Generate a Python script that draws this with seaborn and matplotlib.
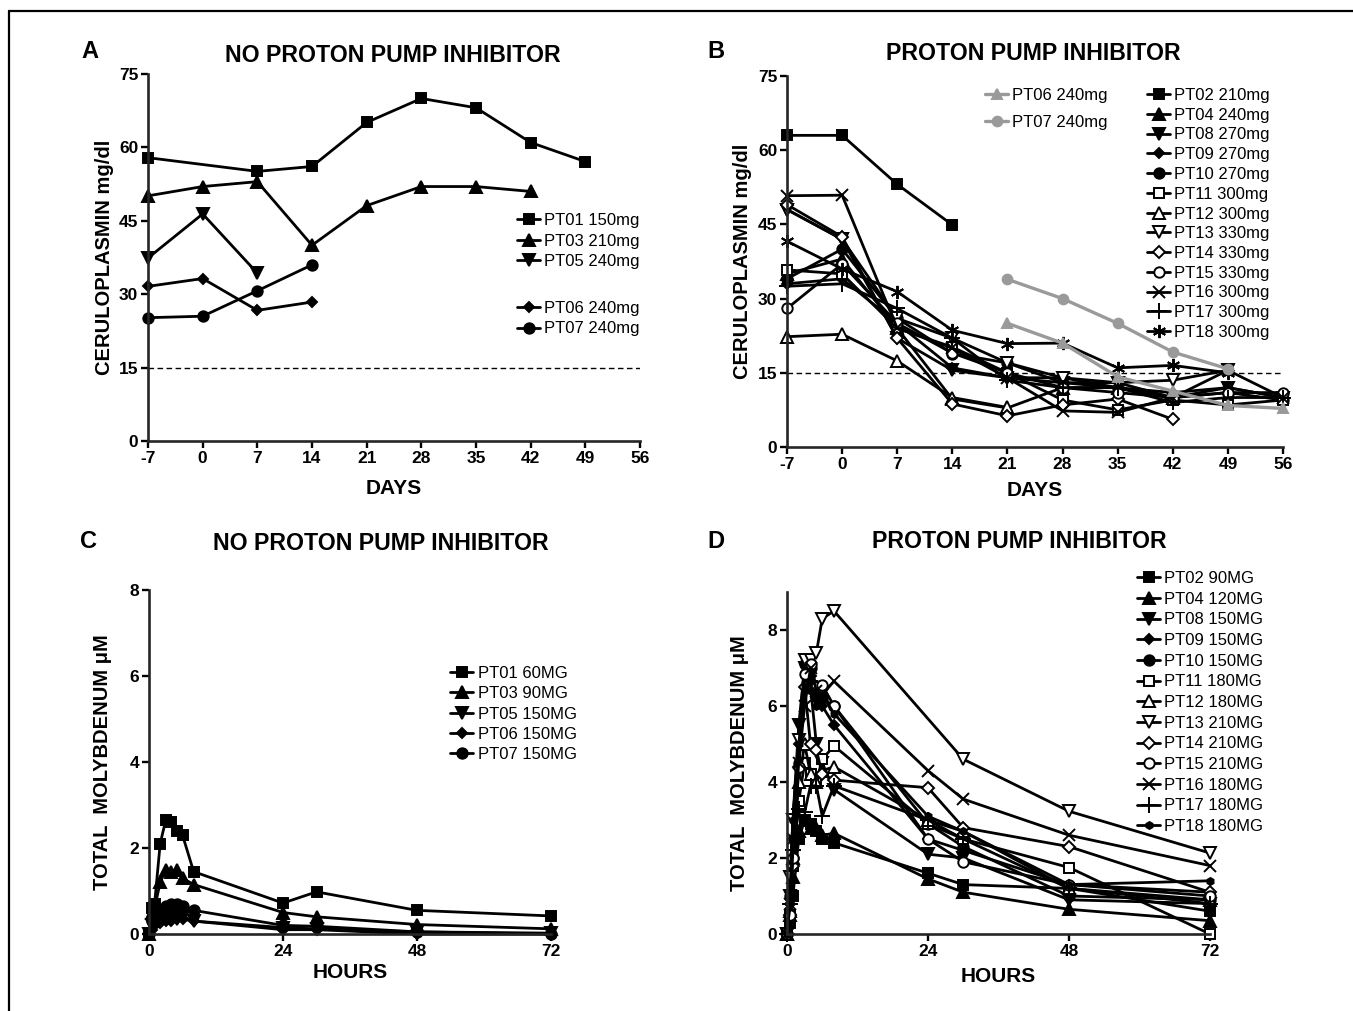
import numpy as np
import pandas as pd
import seaborn as sns
import matplotlib.pyplot as plt
from matplotlib.lines import Line2D

sns.set_theme(style="ticks")
plt.rcParams['font.family'] = ['Liberation Sans', 'DejaVu Sans']
plt.rcParams['axes.linewidth'] = 1.6

# ---------------- data ----------------
days = [-7, 0, 7, 14, 21, 28, 35, 42, 49, 56]
hours = [0, 0.5, 1, 2, 3, 4, 5, 6, 8, 24, 30, 48, 72]
N = None

# Panel A: ceruloplasmin, no proton pump inhibitor
a_pt01 = [57.9, N, 55.1, 56.1, 65.1, 70.0, 68.1, 61.0, 57.1, N]
a_pt03 = [50.1, 52.0, 53.0, 40.0, 48.1, 52.0, 52.0, 51.0, N, N]
a_pt05 = [37.4, 46.4, 34.3, N, N, N, N, N, N, N]
a_pt06 = [31.6, 33.2, 26.7, 28.4, N, N, N, N, N, N]
a_pt07 = [25.2, 25.5, 30.7, 36.0, N, N, N, N, N, N]
a_labels = ["PT01 150mg", "PT03 210mg", "PT05 240mg", "PT06 240mg", "PT07 240mg"]

# Panel B: ceruloplasmin, proton pump inhibitor
b_pt02 = [63.0, 63.0, 53.1, 44.9, N, N, N, N, N, N]
b_pt04 = [35.0, 38.0, 24.0, 9.7, 7.9, 12.0, 12.0, 10.0, N, N]
b_pt08 = [48.0, 42.0, 22.0, 15.5, 14.0, 13.0, 13.0, 10.0, 12.0, 10.0]
b_pt09 = [33.0, 34.0, 25.0, 16.0, 14.0, 14.0, 12.0, 11.0, 12.0, 10.0]
b_pt10 = [34.0, 40.0, 26.0, 18.9, 17.0, 13.0, 12.0, 10.0, 11.0, 9.5]
b_pt11 = [35.8, 35.0, 24.0, 20.2, 15.0, 9.5, 7.5, 9.5, 8.5, 9.5]
b_pt12 = [22.3, 22.8, 17.4, 10.0, 8.0, N, N, N, N, N]
b_pt13 = [48.0, 42.0, 26.0, 22.0, 17.0, 14.0, 13.0, 13.5, 15.5, N]
b_pt14 = [49.0, 42.5, 22.0, 8.7, 6.3, 8.5, 9.7, 5.6, N, N]
b_pt15 = [28.0, 37.0, 25.0, 19.0, 15.0, 12.0, 11.0, 10.0, 11.0, 11.0]
b_pt16 = [50.8, 50.9, 24.0, 20.0, 14.0, 7.3, 7.0, 10.0, 15.5, 10.0]
b_pt17 = [32.5, 33.0, 28.0, 22.0, 13.5, 12.0, 12.0, 9.0, 10.0, 10.0]
b_pt18 = [41.6, 36.0, 31.4, 23.6, 20.9, 21.0, 16.0, 16.5, 15.0, N]
b_pt06 = [N, N, N, N, 25.0, 21.0, 14.2, 11.3, 8.4, 7.8]
b_pt07 = [N, N, N, N, 33.9, 30.0, 25.0, 19.2, 15.8, N]
b_labels = ["PT02 210mg", "PT04 240mg", "PT08 270mg", "PT09 270mg", "PT10 270mg",
            "PT11 300mg", "PT12 300mg", "PT13 330mg", "PT14 330mg", "PT15 330mg",
            "PT16 300mg", "PT17 300mg", "PT18 300mg"]
b_grey_labels = ["PT06 240mg", "PT07 240mg"]

# Panel C: total molybdenum, no proton pump inhibitor
c_pt01 = [0.0, 0.6, 0.7, 2.1, 2.65, 2.6, 2.4, 2.3, 1.45, 0.72, 0.98, 0.55, 0.42]
c_pt03 = [0.0, 0.5, 0.6, 1.2, 1.5, 1.45, 1.5, 1.3, 1.15, 0.5, 0.4, 0.22, 0.12]
c_pt05 = [0.0, 0.2, 0.3, 0.35, 0.4, 0.4, 0.35, 0.4, 0.3, 0.15, 0.12, 0.05, 0.02]
c_pt06 = [0.0, 0.1, 0.2, 0.25, 0.3, 0.3, 0.35, 0.35, 0.3, 0.1, 0.1, 0.0, 0.0]
c_pt07 = [0.0, 0.3, 0.5, 0.55, 0.65, 0.7, 0.7, 0.65, 0.55, 0.2, 0.18, 0.05, 0.0]
c_labels = ["PT01 60MG", "PT03 90MG", "PT05 150MG", "PT06 150MG", "PT07 150MG"]

# Panel D: total molybdenum, proton pump inhibitor
d_pt02 = [0.0, 0.3, 1.0, 2.5, 3.0, 2.9, 2.7, 2.5, 2.4, 1.6, 1.3, 1.2, 0.6]
d_pt04 = [0.0, 0.5, 1.5, 2.7, 3.0, 2.8, 2.8, 2.6, 2.65, 1.45, 1.1, 0.65, 0.35]
d_pt08 = [0.0, 1.0, 3.0, 5.5, 7.0, 6.5, 5.0, 4.5, 3.8, 2.1, 2.0, 0.9, 0.8]
d_pt09 = [0.0, 0.8, 2.5, 5.0, 7.1, 6.8, 6.2, 6.0, 5.5, 2.5, 2.2, 1.3, 1.1]
d_pt10 = [0.0, 1.0, 2.0, 4.5, 7.1, 7.0, 6.3, 6.2, 6.0, 2.9, 2.3, 1.0, 0.9]
d_pt11 = [0.0, 0.5, 1.8, 3.5, 4.5, 4.2, 4.0, 4.6, 4.95, 2.9, 2.5, 1.75, 0.0]
d_pt12 = [0.0, 0.6, 2.0, 4.0, 5.0, 4.2, 4.0, 4.3, 4.4, 3.0, 2.7, 1.2, 0.9]
d_pt13 = [0.0, 1.5, 3.0, 5.1, 7.2, 7.2, 7.4, 8.3, 8.5, N, 4.6, 3.23, 2.13]
d_pt14 = [0.0, 0.5, 1.8, 4.4, 6.5, 5.0, 4.85, 4.2, 4.05, 3.85, 2.8, 2.3, 1.1]
d_pt15 = [0.0, 0.5, 2.0, 4.4, 6.85, 7.1, 6.5, 6.55, 6.0, 2.5, 1.9, 1.3, 1.0]
d_pt16 = [0.0, 0.8, 2.5, 4.5, 6.0, 7.0, 6.4, 6.3, 6.65, 4.3, 3.55, 2.6, 1.8]
d_pt17 = [0.0, 0.8, 2.2, 3.3, 3.2, 3.9, 3.9, 3.1, 3.9, 3.0, 2.5, 1.2, 0.8]
d_pt18 = [0.0, 1.0, 3.0, 5.0, 6.5, 6.4, 6.0, 6.3, 5.8, 3.1, 2.7, 1.3, 1.4]
d_labels = ["PT02 90MG", "PT04 120MG", "PT08 150MG", "PT09 150MG", "PT10 150MG",
            "PT11 180MG", "PT12 180MG", "PT13 210MG", "PT14 210MG", "PT15 210MG",
            "PT16 180MG", "PT17 180MG", "PT18 180MG"]

# ---------------- marker styles ----------------
# (marker, size, filled)
M_SQ = ('s', 7.5, True)
M_UP = ('^', 8, True)
M_DN = ('v', 8, True)
M_DI = ('D', 5, True)
M_CI = ('o', 7.5, True)
M_OSQ = ('s', 7.5, False)
M_OUP = ('^', 8.5, False)
M_ODN = ('v', 8.5, False)
M_ODI = ('D', 6, False)
M_OCI = ('o', 7.5, False)
M_X = ('x', 9, False)
M_PL = ('+', 11, False)
M_AST = ((6, 2, 0), 9.5, False)
M_SAST = ('h', 5, True)

GREY = '#9a9a9a'

W, H = 1353, 1011
fig = plt.figure(figsize=(W / 100, H / 100), dpi=100)


def fx(px):
    return px / W


def fy(py):
    return 1 - py / H


def axes_at(x0, x1, ytop, ybot):
    return fig.add_axes([fx(x0), fy(ybot), (x1 - x0) / W, (ybot - ytop) / H])


def draw(ax, x, y, style, color='black', lw=2.0):
    marker, ms, filled = style
    df = pd.DataFrame({'x': x, 'y': y}).dropna()
    n_before = len(ax.lines)
    sns.lineplot(data=df, x='x', y='y', ax=ax, color=color, marker=marker,
                 markersize=ms, markerfacecolor=color if filled else 'white',
                 markeredgecolor=color, markeredgewidth=1.4, linewidth=lw,
                 clip_on=False, errorbar=None, legend=False)
    return ax.lines[n_before]


def style_axes(ax, xlim, xticks, ylim, yticks, xlabel, ylabel, xl_y, yl_x):
    ax.set_xlim(*xlim)
    ax.set_ylim(*ylim)
    ax.set_xticks(xticks)
    ax.set_yticks(yticks)
    ax.set_xticklabels([str(t) for t in xticks])
    ax.set_yticklabels([str(t) for t in yticks])
    sns.despine(ax=ax)
    for s in ('left', 'bottom'):
        ax.spines[s].set_linewidth(1.9)
    ax.tick_params(direction='out', length=5, width=1.7, labelsize=12.5, pad=2,
                   color='black', labelcolor='black')
    for lab in ax.get_xticklabels() + ax.get_yticklabels():
        lab.set_fontweight('bold')
    ax.set_xlabel(xlabel, fontsize=15, fontweight='bold', color='black')
    ax.set_ylabel(ylabel, fontsize=14.5, fontweight='bold', color='black')
    ax.xaxis.label.set_va('center')
    ax.yaxis.label.set_va('center')
    pos = ax.get_position()
    ax.xaxis.set_label_coords(pos.x0 + pos.width / 2, fy(xl_y), transform=fig.transFigure)
    ax.yaxis.set_label_coords(fx(yl_x), pos.y0 + pos.height / 2, transform=fig.transFigure)
    ax.set_facecolor('white')


def legend(ax, handles, labels, x_left, y_first, spacing_ls=0.3, fs=12):
    leg = ax.legend(handles, labels, loc='upper left',
                    bbox_to_anchor=(fx(x_left), fy(y_first - 6)),
                    bbox_transform=fig.transFigure, frameon=False, fontsize=fs,
                    handlelength=1.4, handletextpad=0.25, labelspacing=spacing_ls,
                    borderpad=0, borderaxespad=0, numpoints=1)
    for t in leg.get_texts():
        t.set_color('black')
    return leg


def ref_line(ax, xlim):
    ax.plot(xlim, [15, 15], ls=(0, (4, 2.5)), lw=1.0, color='black', zorder=1)


# ---------------- Panel A ----------------
axA = axes_at(148, 640, 74, 441)
ref_line(axA, (-7, 56))
la = [draw(axA, days, a_pt01, M_SQ), draw(axA, days, a_pt03, M_UP),
      draw(axA, days, a_pt05, M_DN), draw(axA, days, a_pt06, M_DI),
      draw(axA, days, a_pt07, M_CI)]
style_axes(axA, (-7, 56), days, (0, 75), [0, 15, 30, 45, 60, 75],
           'DAYS', 'CERULOPLASMIN mg/dl', 489, 104)
legA1 = legend(axA, la[:3], a_labels[:3], 517, 219, spacing_ls=0.33)
axA.add_artist(legA1)
legend(axA, la[3:], a_labels[3:], 517, 307, spacing_ls=0.33)

# ---------------- Panel B ----------------
axB = axes_at(787, 1283, 76, 447)
ref_line(axB, (-7, 56))
b_series = [(b_pt02, M_SQ), (b_pt04, M_UP), (b_pt08, M_DN), (b_pt09, M_DI),
            (b_pt10, M_CI), (b_pt11, M_OSQ), (b_pt12, M_OUP), (b_pt13, M_ODN),
            (b_pt14, M_ODI), (b_pt15, M_OCI), (b_pt16, M_X), (b_pt17, M_PL),
            (b_pt18, M_AST)]
lb = [draw(axB, days, vals, st) for vals, st in b_series]
lg = [draw(axB, days, b_pt06, ('^', 6.5, True), color=GREY, lw=2.4),
      draw(axB, days, b_pt07, ('o', 7, True), color=GREY, lw=2.4)]
style_axes(axB, (-7, 56), days, (0, 75), [0, 15, 30, 45, 60, 75],
           'DAYS', 'CERULOPLASMIN mg/dl', 491, 742)
legB1 = legend(axB, lb, b_labels, 1147, 94, spacing_ls=0.285)
axB.add_artist(legB1)
legend(axB, lg, b_grey_labels, 985, 94, spacing_ls=0.72)

# ---------------- Panel C ----------------
axC = axes_at(149, 551, 590, 934)
lc = [draw(axC, hours, c_pt01, M_SQ), draw(axC, hours, c_pt03, M_UP),
      draw(axC, hours, c_pt05, M_DN), draw(axC, hours, c_pt06, M_DI),
      draw(axC, hours, c_pt07, M_CI)]
style_axes(axC, (0, 72), [0, 24, 48, 72], (0, 8), [0, 2, 4, 6, 8],
           'HOURS', 'TOTAL  MOLYBDENUM \u03bcM', 972, 102)
legend(axC, lc, c_labels, 450, 672, spacing_ls=0.32)

# ---------------- Panel D ----------------
axD = axes_at(787, 1210, 592, 934)
d_series = [(d_pt02, M_SQ), (d_pt04, M_UP), (d_pt08, M_DN), (d_pt09, M_DI),
            (d_pt10, M_CI), (d_pt11, M_OSQ), (d_pt12, M_OUP), (d_pt13, M_ODN),
            (d_pt14, M_ODI), (d_pt15, M_OCI), (d_pt16, M_X), (d_pt17, M_PL),
            (d_pt18, M_SAST)]
ld = [draw(axD, hours, vals, st) for vals, st in d_series]
style_axes(axD, (0, 72), [0, 24, 48, 72], (0, 9), [0, 2, 4, 6, 8],
           'HOURS', 'TOTAL  MOLYBDENUM \u03bcM', 976, 740)
legend(axD, ld, d_labels, 1137, 577, spacing_ls=0.34)

# ---------------- titles, panel letters, frame ----------------
title_kw = dict(fontsize=16.7, fontweight='bold', ha='center', va='center', color='black')
fig.text(fx(393), fy(55), 'NO PROTON PUMP INHIBITOR', **title_kw)
fig.text(fx(1033), fy(54), 'PROTON PUMP INHIBITOR', **title_kw)
fig.text(fx(381), fy(543), 'NO PROTON PUMP INHIBITOR', **title_kw)
fig.text(fx(1019), fy(541), 'PROTON PUMP INHIBITOR', **title_kw)
letter_kw = dict(fontsize=17, fontweight='bold', ha='center', va='center', color='black')
fig.text(fx(90), fy(52), 'A', **letter_kw)
fig.text(fx(716), fy(52), 'B', **letter_kw)
fig.text(fx(88), fy(541), 'C', **letter_kw)
fig.text(fx(716), fy(541), 'D', **letter_kw)

fig.add_artist(Line2D([fx(9), 1.0], [fy(11), fy(11)], color='black', lw=1.6,
                      transform=fig.transFigure))
fig.add_artist(Line2D([fx(9), fx(9)], [fy(11), 0.0], color='black', lw=1.6,
                      transform=fig.transFigure))

fig.savefig('out.png', dpi=100, facecolor='white')
